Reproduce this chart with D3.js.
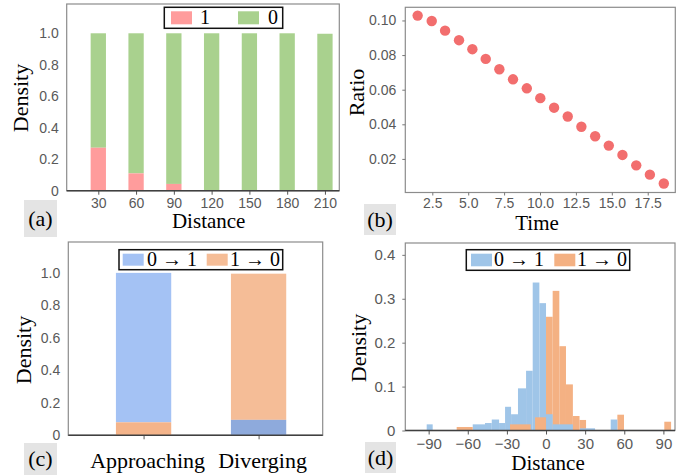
<html>
<head>
  <style>
  body { margin: 0; background: #fff; }
  .tick-lab { font-family: Arial, "Liberation Sans", sans-serif; font-size: 14px; fill: #595959; }
  .ttl { font-family: "Times New Roman", "Liberation Serif", serif; fill: #000; }
  .frame { fill: none; stroke: #8c8c8c; stroke-width: 1.2px; }
  .base { stroke: #404040; stroke-width: 1.5px; }
  </style>
  <script src="https://d3js.org/d3.v7.min.js"></script>
</head>
<body>
<svg id="fig" width="694" height="476"></svg>
<script>
// (a) 거리별 밀도
var distCats = [30, 60, 90, 120, 150, 180, 210];
var densOne  = [0.273, 0.11, 0.043, 0, 0, 0, 0];
var densZero = [0.727, 0.89, 0.957, 1.0, 1.0, 1.0, 0.997];

// (b) 시간별 비율
var timeVals  = [1.48, 2.46, 3.39, 4.36, 5.29, 6.22, 7.17, 8.12, 9.08, 10.02,
                 10.98, 11.93, 12.88, 13.84, 14.79, 15.74, 16.7, 17.65, 18.62];
var ratioVals = [0.1028, 0.0997, 0.0941, 0.0886, 0.0834, 0.0778, 0.0718, 0.066, 0.0608, 0.0551,
                 0.0496, 0.0445, 0.0386, 0.0331, 0.0277, 0.0223, 0.0163, 0.0109, 0.0058];

// (c) 접근/이탈
var moveCats = ["Approaching", "Diverging"];
var moveUp   = [0.92, 0.095];  // 0 -> 1
var moveDown = [0.08, 0.9];    // 1 -> 0

// (d) 히스토그램 [시작, 끝, 밀도]
var histUp = [[-91.5, -86.9, 0.014], [-56.2, -46.8, 0.014], [-46.8, -41.6, 0.017], [-41.6, -36, 0.025],
              [-36, -31.4, 0.017], [-31.4, -26.8, 0.054], [-26.8, -21.5, 0.037], [-21.5, -15.3, 0.096],
              [-15.3, -10.2, 0.136], [-10.2, -5.1, 0.337], [-5.1, 0, 0.29], [0, 5.1, 0.037],
              [5.1, 20.6, 0.014], [26, 37.6, 0.005], [49.6, 54.7, 0.025]];
var histDown = [[-68.5, -56.2, 0.008], [-27.6, -11.7, 0.014], [-8.4, 0, 0.03], [0, 5.1, 0.259],
                [5.1, 10.2, 0.318], [10.2, 15.3, 0.192], [15.3, 20.6, 0.105], [20.6, 25.7, 0.033],
                [25.7, 30.7, 0.024], [54.7, 59.8, 0.036], [90.7, 95.9, 0.02]];

var svg = d3.select("#fig");

function panelTag(x, y, w, h, txt) { // (a),(b)... 표시
  svg.append("rect").attr("x", x).attr("y", y).attr("width", w).attr("height", h).attr("fill", "#e4e4e4");
  svg.append("text").attr("class", "ttl").attr("x", x + w / 2).attr("y", y + h / 2 + 7)
     .attr("text-anchor", "middle").style("font-size", "22px").text(txt);
}
function yTitle(x, y, txt) {
  svg.append("text").attr("class", "ttl")
     .attr("transform", "translate(" + x + "," + y + ") rotate(-90)")
     .attr("text-anchor", "middle").attr("dominant-baseline", "central")
     .style("font-size", "22px").text(txt);
}
function xTitle(x, y, txt, size) {
  svg.append("text").attr("class", "ttl").attr("x", x).attr("y", y)
     .attr("text-anchor", "middle").style("font-size", (size || 21) + "px").text(txt);
}
function legend(x, y, w, h, items) {
  svg.append("rect").attr("x", x).attr("y", y).attr("width", w).attr("height", h)
     .attr("fill", "#fff").attr("stroke", "#111").attr("stroke-width", 1.5);
  items.forEach(function (it) {
    svg.append("rect").attr("x", it.sx).attr("y", y + 4).attr("width", 21).attr("height", h - 8).attr("fill", it.c);
    svg.append("text").attr("class", "ttl").attr("x", it.tx).attr("y", y + h - 4)
       .style("font-size", "20px").text(it.t);
  });
}
function styleAxis(g) {
  g.select(".domain").remove();
  g.selectAll(".tick text").attr("class", "tick-lab");
}
var fmtZero = function (f) { return function (d) { return d === 0 ? "0" : d3.format(f)(d); }; };

// ---------- (a) ----------
var ax = d3.scaleLinear().domain([4.9, 221.4]).range([66.7, 339.3]);
var ay = d3.scaleLinear().domain([0, 1.186]).range([190.7, 4]);
var barW = 15.3;
var gA = svg.append("g");
gA.append("rect").attr("class", "frame").attr("x", 66.7).attr("y", 4).attr("width", 272.6).attr("height", 186.7);
gA.selectAll("rect.zero").data(distCats).enter().append("rect")
  .attr("x", function (d) { return ax(d) - barW / 2; })
  .attr("y", function (d, i) { return ay(densOne[i] + densZero[i]); })
  .attr("width", barW)
  .attr("height", function (d, i) { return ay(densOne[i]) - ay(densOne[i] + densZero[i]); })
  .attr("fill", "#a9d18e");
gA.selectAll("rect.one").data(distCats).enter().append("rect")
  .attr("x", function (d) { return ax(d) - barW / 2; })
  .attr("y", function (d, i) { return ay(densOne[i]); })
  .attr("width", barW)
  .attr("height", function (d, i) { return ay(0) - ay(densOne[i]); })
  .attr("fill", "#ff9c9c");
gA.append("g").attr("transform", "translate(66.7,0)")
  .call(d3.axisLeft(ay).tickValues([0, 0.2, 0.4, 0.6, 0.8, 1.0]).tickFormat(fmtZero(".1f")).tickSize(0).tickPadding(8))
  .call(styleAxis);
gA.append("g").attr("transform", "translate(0,190.7)")
  .call(d3.axisBottom(ax).tickValues(distCats).tickSize(4).tickPadding(3))
  .call(styleAxis).selectAll(".tick line").attr("stroke", "#555");
gA.append("line").attr("class", "base").attr("x1", 66.7).attr("x2", 339.3).attr("y1", 190.7).attr("y2", 190.7);
legend(164.3, 7.3, 118.4, 21, [
  {sx: 171, tx: 200, c: "#ff9c9c", t: "1"},
  {sx: 238, tx: 268, c: "#a9d18e", t: "0"}]);
yTitle(20.7, 98, "Density");
xTitle(208.7, 228, "Distance");
panelTag(24, 200, 33, 37, "(a)");

// ---------- (b) ----------
var bx = d3.scaleLinear().domain([0.62, 19.42]).range([405.3, 675.3]);
var by = d3.scaleLinear().domain([0.0006, 0.1076]).range([192.5, 7.3]);
var gB = svg.append("g");
gB.append("rect").attr("class", "frame").attr("x", 405.3).attr("y", 7.3).attr("width", 270).attr("height", 185.2);
gB.selectAll("circle").data(timeVals).enter().append("circle")
  .attr("cx", function (d) { return bx(d); })
  .attr("cy", function (d, i) { return by(ratioVals[i]); })
  .attr("r", 5.2)
  .attr("fill", "#f26e6e");
gB.append("g").attr("transform", "translate(405.3,0)")
  .call(d3.axisLeft(by).tickValues([0.02, 0.04, 0.06, 0.08, 0.10]).tickFormat(d3.format(".2f")).tickSize(3).tickPadding(6))
  .call(styleAxis).selectAll(".tick line").attr("stroke", "#777");
gB.append("g").attr("transform", "translate(0,192.5)")
  .call(d3.axisBottom(bx).tickValues([2.5, 5, 7.5, 10, 12.5, 15, 17.5]).tickFormat(d3.format(".1f")).tickSize(3).tickPadding(3))
  .call(styleAxis).selectAll(".tick line").attr("stroke", "#777");
yTitle(356.3, 92.5, "Ratio");
xTitle(537, 230, "Time");
panelTag(364, 204, 32, 31, "(b)");

// ---------- (c) ----------
var cx = d3.scalePoint().domain(moveCats).range([68.3, 322.7]).padding(0.606).align(0.54);
var cy = d3.scaleLinear().domain([0, 1.19]).range([435.3, 242]);
var cW = 55.3;
var gC = svg.append("g");
gC.append("rect").attr("class", "frame").attr("x", 68.3).attr("y", 242).attr("width", 254.4).attr("height", 193.3);
// 아래쪽은 작은 값, 위쪽은 큰 값
moveCats.forEach(function (c, i) {
  var upLow = moveUp[i] < moveDown[i];
  var lowV = upLow ? moveUp[i] : moveDown[i];
  var highV = upLow ? moveDown[i] : moveUp[i];
  gC.append("rect").attr("x", cx(c) - cW / 2).attr("y", cy(lowV + highV)).attr("width", cW)
    .attr("height", cy(lowV) - cy(lowV + highV)).attr("fill", upLow ? "#f5bd97" : "#a4c2f4");
  gC.append("rect").attr("x", cx(c) - cW / 2).attr("y", cy(lowV)).attr("width", cW)
    .attr("height", cy(0) - cy(lowV)).attr("fill", upLow ? "#8eaadc" : "#f4b48a");
});
gC.append("g").attr("transform", "translate(68.3,0)")
  .call(d3.axisLeft(cy).tickValues([0, 0.2, 0.4, 0.6, 0.8, 1.0]).tickFormat(fmtZero(".1f")).tickSize(0).tickPadding(8))
  .call(styleAxis);
gC.append("g").attr("transform", "translate(0,435.3)")
  .call(d3.axisBottom(cx).tickSize(4).tickFormat(""))
  .call(styleAxis).selectAll(".tick line").attr("stroke", "#555");
gC.append("line").attr("class", "base").attr("x1", 68.3).attr("x2", 322.7).attr("y1", 435.3).attr("y2", 435.3);
moveCats.forEach(function (c) {
  xTitle(cx(c) + 4, 468, c, 22);
});
legend(119, 249.7, 163.7, 20, [
  {sx: 122.7, tx: 147, c: "#a4c2f4", t: "0 \u2192 1"},
  {sx: 206.7, tx: 230, c: "#f5bd97", t: "1 \u2192 0"}]);
yTitle(23.3, 350, "Density");
panelTag(24, 443, 33, 32, "(c)");

// ---------- (d) ----------
var dx = d3.scaleLinear().domain([-107.9, 98.9]).range([405.3, 675]);
var dy = d3.scaleLinear().domain([0, 0.427]).range([430.5, 243]);
var gD = svg.append("g");
gD.append("rect").attr("class", "frame").attr("x", 405.3).attr("y", 243).attr("width", 269.7).attr("height", 187.5);
var bars = histUp.map(function (b) { return {b: b, c: "#9fc5e8"}; })
  .concat(histDown.map(function (b) { return {b: b, c: "#f4b183"}; }));
bars.sort(function (p, q) { return q.b[2] - p.b[2]; }); // 높은 막대 먼저
gD.selectAll("rect.bin").data(bars).enter().append("rect")
  .attr("x", function (d) { return dx(d.b[0]); })
  .attr("y", function (d) { return dy(d.b[2]); })
  .attr("width", function (d) { return dx(d.b[1]) - dx(d.b[0]); })
  .attr("height", function (d) { return dy(0) - dy(d.b[2]); })
  .attr("fill", function (d) { return d.c; });
gD.append("g").attr("transform", "translate(405.3,0)")
  .call(d3.axisLeft(dy).tickValues([0, 0.1, 0.2, 0.3, 0.4]).tickFormat(fmtZero(".1f")).tickSize(3).tickPadding(7))
  .call(styleAxis).selectAll(".tick line").attr("stroke", "#777");
gD.append("g").attr("transform", "translate(0,430.5)")
  .call(d3.axisBottom(dx).tickValues([-90, -60, -30, 0, 30, 60, 90]).tickSize(4).tickPadding(4))
  .call(styleAxis).selectAll(".tick line").attr("stroke", "#555");
gD.selectAll(".tick text").style("font-size", "15px");
gD.append("line").attr("class", "base").attr("x1", 405.3).attr("x2", 675).attr("y1", 430.5).attr("y2", 430.5);
legend(466.3, 249.7, 163.4, 20.6, [
  {sx: 471, tx: 494, c: "#9fc5e8", t: "0 \u2192 1"},
  {sx: 554.3, tx: 577, c: "#f4b183", t: "1 \u2192 0"}]);
yTitle(358.7, 348, "Density");
xTitle(548, 470, "Distance");
panelTag(365, 442, 31, 31, "(d)");
</script>
</body>
</html>
